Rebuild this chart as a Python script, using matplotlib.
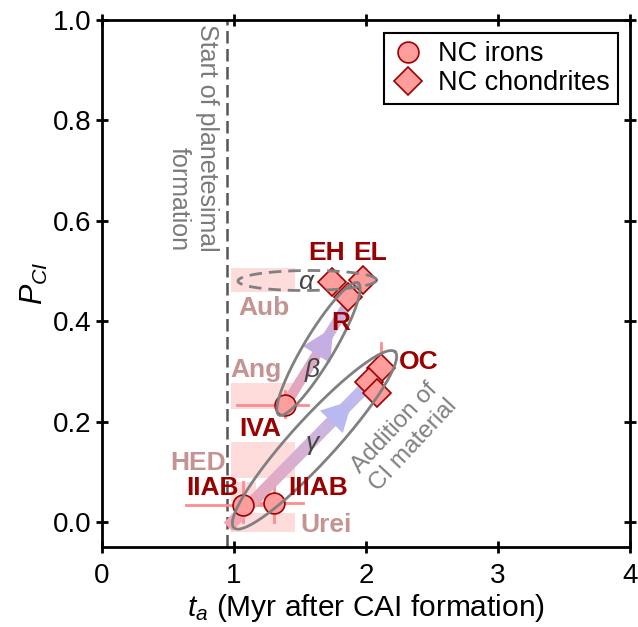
import numpy as np
import matplotlib
matplotlib.use('Agg')
from matplotlib import pyplot as plt
from matplotlib.patches import Rectangle, Polygon
from matplotlib.collections import LineCollection
from matplotlib.lines import Line2D

plt.rcParams['font.family'] = ['Liberation Sans', 'DejaVu Sans']
plt.rcParams['font.size'] = 19
plt.rcParams['mathtext.fontset'] = 'custom'
plt.rcParams['mathtext.rm'] = 'Liberation Sans'
plt.rcParams['mathtext.it'] = 'Liberation Sans:italic'

# NC irons
iron_names = ['IIAB', 'IIIAB', 'IVA']
iron_ta = [1.07, 1.30, 1.39]
iron_pci = [0.034, 0.038, 0.233]
iron_ta_lo = [0.64, 1.13, 1.02]
iron_ta_hi = [1.25, 1.52, 1.56]
iron_pci_lo = [0.0, 0.0, 0.21]
iron_pci_hi = [0.08, 0.07, 0.26]

# NC chondrites
chond_names = ['EH', 'EL', 'R', 'OC', '', '']
chond_ta = [1.74, 1.98, 1.86, 2.11, 2.02, 2.08]
chond_pci = [0.478, 0.482, 0.448, 0.307, 0.279, 0.257]
oc_pci_hi = 0.357

# achondrite ranges (ta range, pci range)
achon_names = ['Aub', 'Ang', 'HED', '', 'Urei']
achon_ta0 = [0.98, 0.98, 0.98, 0.98, 0.98]
achon_ta1 = [1.46, 1.46, 1.46, 1.17, 1.46]
achon_pci0 = [0.458, 0.225, 0.088, 0.04, -0.02]
achon_pci1 = [0.505, 0.277, 0.160, 0.08, 0.017]
achon_label_xy = [(1.23, 0.426), (1.17, 0.303), (0.73, 0.117), None, (1.70, -0.006)]

t_planetesimal = 0.95

fig = plt.figure(figsize=(6.38, 6.27), dpi=100)
ax = fig.add_axes([102/638, 1 - 547/627, 528/638, 527/627])
ax.set_xlim(0, 4)
ax.set_ylim(-0.05, 1.0)

dark = '#990000'
rosy = '#c69393'

for i in range(len(achon_names)):
    ax.add_patch(Rectangle((achon_ta0[i], achon_pci0[i]), achon_ta1[i] - achon_ta0[i],
                           achon_pci1[i] - achon_pci0[i], facecolor='#ffdcdc',
                           edgecolor='none', zorder=1))
    if achon_label_xy[i] is not None:
        ax.text(*achon_label_xy[i], achon_names[i], color=rosy, fontweight='bold',
                fontsize=19, ha='center', va='center', zorder=8)

ax.axvline(t_planetesimal, color='#555555', lw=1.8, ls=(0, (5, 2.2)), zorder=2)
ax.text(0.885, 0.993, 'Start of planetesimal\nformation', rotation=270, ha='right',
        va='top', color='#7a7a7a', fontsize=18, zorder=8)

# error bars
errc = '#ff8c8c'
for i in range(len(iron_names)):
    ax.plot([iron_ta_lo[i], iron_ta_hi[i]], [iron_pci[i]] * 2, color=errc, lw=2, zorder=3)
    ax.plot([iron_ta[i]] * 2, [iron_pci_lo[i], iron_pci_hi[i]], color=errc, lw=2, zorder=3)
ax.plot([chond_ta[3]] * 2, [chond_pci[3], oc_pci_hi], color=errc, lw=2, zorder=3)

fig.canvas.draw()
T = ax.transData


def grad_arrow(p0, p1, c0, c1, width_px, head_frac, head_len, head_half, head_col):
    a = T.transform(p0)
    b = T.transform(p1)
    n = 60
    s = np.linspace(0, 1, n + 1)
    pts = a + np.outer(s, b - a)
    segs = [[pts[k], pts[k + 1] + (pts[k + 1] - pts[k]) * 0.3] for k in range(n)]
    ca = np.array(matplotlib.colors.to_rgb(c0))
    cb = np.array(matplotlib.colors.to_rgb(c1))
    cols = [ca + (cb - ca) * (k + 0.5) / n for k in range(n)]
    segs = [T.inverted().transform(np.array(sg)) for sg in segs]
    lc = LineCollection(segs, colors=cols, linewidths=width_px * 72 / 100,
                        capstyle='butt', zorder=4)
    ax.add_collection(lc)
    d = (b - a) / np.hypot(*(b - a))
    nrm = np.array([-d[1], d[0]])
    tip = a + (b - a) * head_frac
    base = tip - d * head_len
    tri = np.array([tip, base + nrm * head_half, base - nrm * head_half])
    ax.add_patch(Polygon(T.inverted().transform(tri), closed=True,
                         facecolor=head_col, edgecolor='none', zorder=4))


def ellipse(p0, p1, semi_px, **kw):
    a = T.transform(p0)
    b = T.transform(p1)
    c = (a + b) / 2
    u = (b - a) / 2
    v = np.array([-u[1], u[0]]) / np.hypot(*u) * semi_px
    t = np.linspace(0, 2 * np.pi, 300)
    pts = c + np.outer(np.cos(t), u) + np.outer(np.sin(t), v)
    pts = T.inverted().transform(pts)
    ax.plot(pts[:, 0], pts[:, 1], **kw)


grad_arrow((0.955, -0.01), (1.99, 0.267), '#f2a4ae', '#bcbcf2', 12, 0.91, 30, 16, '#b9b9f0')
grad_arrow((1.39, 0.233), (1.88, 0.442), '#eaa4b4', '#c4b2e6', 10, 0.74, 32, 16, '#c4aee2')

# markers
mfc = '#ff9c9c'
mec = '#a00000'
ax.plot(iron_ta, iron_pci, 'o', ms=15, mfc=mfc, mec=mec, mew=1.2, zorder=5)
ax.plot(chond_ta, chond_pci, 'D', ms=14, mfc=mfc, mec=mec, mew=1.2, zorder=5)

ellipse((1.03, 0.48), (2.08, 0.482), 10, color='#808080', lw=2, ls=(0, (4.5, 2.5)), zorder=6)
ellipse((1.34, 0.213), (1.94, 0.476), 15, color='#808080', lw=2, zorder=6)
ellipse((1.0, -0.012), (2.22, 0.339), 22, color='#808080', lw=2, zorder=6)

# labels
iron_off = [(-31, 17), (45, 15), (-25, -24)]
for i, nm in enumerate(iron_names):
    ax.annotate(nm, (iron_ta[i], iron_pci[i]), xytext=iron_off[i], textcoords='offset pixels',
                ha='center', va='center', color=dark, fontweight='bold', fontsize=19, zorder=8)
chond_off = [(-5, 29), (7, 27), (-7, -26), (38, 6)]
for i in range(4):
    ax.annotate(chond_names[i], (chond_ta[i], chond_pci[i]), xytext=chond_off[i],
                textcoords='offset pixels', ha='center', va='center', color=dark,
                fontweight='bold', fontsize=19, zorder=8)

for g, (gx, gy) in zip(['α', 'β', 'γ'], [(1.545, 0.478), (1.59, 0.303), (1.59, 0.157)]):
    ax.text(gx, gy, g, style='italic', color='#444444', fontsize=19, ha='center',
            va='center', zorder=8)

ax.text(2.29, 0.17, 'Addition of\nCI material', rotation=47, ha='center', va='center',
        color='#808080', fontsize=17.5, zorder=8)

handles = [Line2D([], [], ls='none', marker='o', ms=15, mfc=mfc, mec=mec, mew=1.2),
           Line2D([], [], ls='none', marker='D', ms=14, mfc=mfc, mec=mec, mew=1.2)]
leg = ax.legend(handles, ['NC irons', 'NC chondrites'], loc='upper right',
                bbox_to_anchor=(0.977, 0.975), borderaxespad=0, fancybox=False,
                framealpha=1, edgecolor='black', handlelength=1.2, handletextpad=0.5,
                labelspacing=0.1, borderpad=0.3, fontsize=19.5)
leg.get_frame().set_linewidth(1.5)

ax.set_xticks([0, 1, 2, 3, 4])
ax.set_yticks([0.0, 0.2, 0.4, 0.6, 0.8, 1.0])
ax.set_yticklabels(['0.0', '0.2', '0.4', '0.6', '0.8', '1.0'])
ax.tick_params(direction='inout', length=9, width=2, top=True, right=True, labelsize=20)
ax.tick_params(axis='x', pad=7)
ax.tick_params(axis='y', pad=3)
for sp in ax.spines.values():
    sp.set_linewidth(2)
ax.set_xlabel(r'$t_a$ (Myr after CAI formation)', fontsize=21.5, labelpad=2)
ax.set_ylabel(r'$P_{CI}$', fontsize=22, labelpad=2)

fig.savefig('out.png', dpi=100)
